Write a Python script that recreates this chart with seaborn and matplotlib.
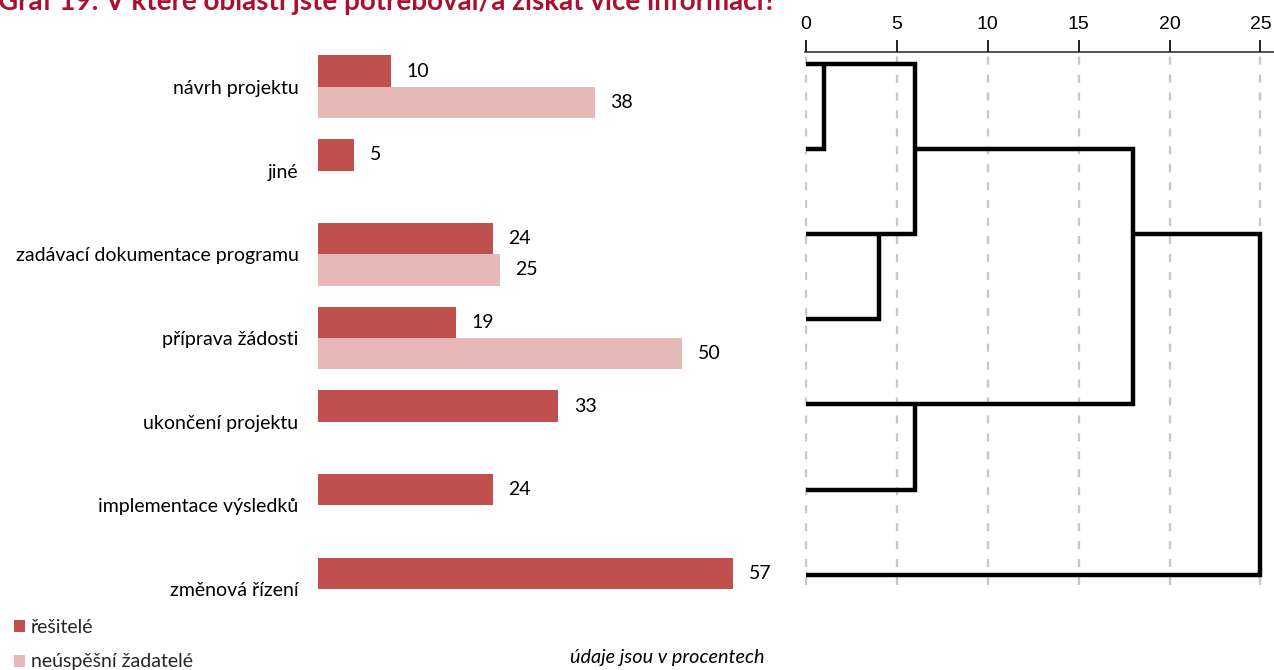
import matplotlib
matplotlib.use("Agg")
import matplotlib.pyplot as plt
import numpy as np
import pandas as pd
import seaborn as sns

# dati del grafico a barre
categories = ['návrh projektu', 'jiné', 'zadávací dokumentace programu', 'příprava žádosti',
              'ukončení projektu', 'implementace výsledků', 'změnová řízení']
resitele = [10, 5, 24, 19, 33, 24, 57]
neuspesni = [38, np.nan, 25, 50, np.nan, np.nan, np.nan]
series_names = ['řešitelé', 'neúspěšní žadatelé']

# dendrogramma: spezzate (id percorso, distanza, indice foglia)
dend_path = [1, 1, 1,
             2, 2, 2, 2,
             3, 3, 3,
             4, 4, 4, 4,
             5, 5, 5,
             6, 6, 6, 6]
dend_x = [0, 1, 1,
          0, 6, 6, 0,
          0, 4, 4,
          6, 18, 18, 0,
          6, 6, 0,
          18, 25, 25, 0]
dend_y = [2, 2, 1,
          1, 1, 3, 3,
          4, 4, 3,
          2, 2, 5, 5,
          5, 6, 6,
          3, 3, 7, 7]
dend_ticks = [0, 5, 10, 15, 20, 25]

sns.set_theme(style='white')
plt.rcParams['font.family'] = ['Lato', 'DejaVu Sans']

W, H = 1274, 670
fig = plt.figure(figsize=(W / 100, H / 100), dpi=100)

# ---- grafico a barre ----
df = pd.DataFrame({
    'kategorie': categories * 2,
    'skupina': [series_names[0]] * len(categories) + [series_names[1]] * len(categories),
    'hodnota': resitele + neuspesni,
}).dropna()

ax = fig.add_axes([318 / W, 1 - 631 / H, 437 / W, 586 / H])
sns.barplot(data=df, y='kategorie', x='hodnota', hue='skupina', order=categories,
            hue_order=series_names, palette=['#C0504D', '#E6B9B8'], saturation=1,
            width=0.75, linewidth=0, orient='h', ax=ax)
ax.set_xlim(0, 60)
ax.set_ylim(6.5, -0.5)
for cont in ax.containers:
    ax.bar_label(cont, padding=11, fontsize=14, color='black')
for s in ax.spines.values():
    s.set_visible(False)
ax.set_xticks([])
ax.set_xlabel('')
ax.set_ylabel('')
ax.tick_params(axis='y', length=0, pad=14, labelsize=14, labelcolor='black')

handles, labels = ax.get_legend_handles_labels()
ax.get_legend().remove()
fig.legend(handles, labels, loc='upper left', bbox_to_anchor=(14 / W, 1 - 619 / H),
           frameon=False, fontsize=14, handlelength=0.57, handleheight=0.57,
           handletextpad=0.3, labelspacing=0.9, borderaxespad=0, borderpad=0)

fig.text(765 / W, 1 - 663 / H, 'údaje jsou v procentech', ha='right', va='baseline',
         fontsize=14.3, style='italic', color='black')

fig.text(-2 / W, 1 - 10 / H, 'Graf 19: V které oblasti jste potřeboval/a získat více informací?',
         ha='left', va='baseline', fontsize=20, fontweight='bold', color='#AC1030')

# ---- dendrogramma ----
dd = pd.DataFrame({'path': dend_path, 'dist': dend_x, 'leaf': dend_y})
ax2 = fig.add_axes([805 / W, 1 - 585 / H, 470 / W, 533 / H])
for t in dend_ticks:
    ax2.axvline(t, color='#c8c8c8', lw=1.7, linestyle=(0, (3.4, 4.2)), zorder=0)
sns.lineplot(data=dd, x='dist', y='leaf', units='path', estimator=None, sort=False,
             color='black', lw=3.2, ax=ax2)
for line in ax2.get_lines()[len(dend_ticks):]:
    line.set_solid_joinstyle('miter')
    line.set_solid_capstyle('butt')
ax2.set_xlim(-0.05, 25.8)
ax2.set_ylim(7.12, 0.86)
for k in ['left', 'right', 'bottom']:
    ax2.spines[k].set_visible(False)
ax2.spines['top'].set_color('#222222')
ax2.spines['top'].set_linewidth(1.1)
ax2.xaxis.tick_top()
ax2.set_xticks(dend_ticks)
ax2.set_yticks([])
ax2.set_xlabel('')
ax2.set_ylabel('')
ax2.tick_params(axis='x', direction='out', length=9, width=1.4, pad=5, colors='#222222',
                labelsize=14, labelcolor='black')
for lab in ax2.get_xticklabels():
    lab.set_fontfamily(['Liberation Sans', 'DejaVu Sans'])

fig.savefig('out.png', dpi=100)
